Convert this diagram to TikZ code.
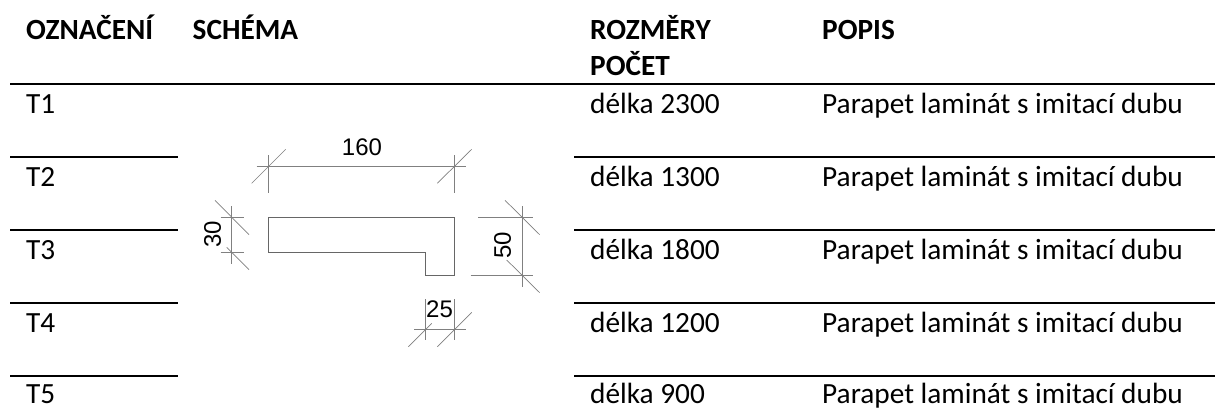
\documentclass[tikz,border=0pt]{standalone}
\usepackage{fontspec}
\setmainfont{Carlito}
\newfontfamily\dimfont{Liberation Sans}
\begin{document}
\begin{tikzpicture}[x=1pt,y=-1pt,
  rule/.style={line width=2pt,black},
  dim/.style={line width=0.7pt,black!50},
  outline/.style={line width=0.9pt,black!60},
  head/.style={anchor=base west,inner sep=0pt,font=\fontsize{29.3}{32}\selectfont\bfseries},
  cell/.style={anchor=base west,inner sep=0pt,font=\fontsize{29.3}{32}\selectfont},
  dimtext/.style={inner sep=0pt,font=\fontsize{24}{26}\dimfont,text=black}]
\useasboundingbox (0,0) rectangle (1215,409);
\fill[white] (0,0) rectangle (1215,409);
% rules
\draw[rule] (10,84) -- (1215,84);
\foreach \y in {156.7,230,303,375.7}{
  \draw[rule] (10,\y) -- (178,\y);
  \draw[rule] (574,\y) -- (1215,\y);
}
% header
\node[head] (h1) at (26,39.5) {OZNAČENÍ};
\node[head] (h2) at (192.5,39.5) {SCHÉMA};
\node[head] (h3) at (590,39.5) {ROZMĚRY};
\node[head] (h3b) at (590,76) {POČET};
\node[head] (h4) at (822,39.5) {POPIS};
% rows
\foreach \n/\y/\l in {1/113.5/2300,2/186.5/1300,3/259.5/1800,4/332.5/1200,5/403/900}{
  \node[cell] (t\n) at (26,\y) {T\n};
  \node[cell] (d\n) at (590,\y) {délka \l};
  \node[cell] (p\n) at (822,\y) {Parapet laminát s imitací dubu};
}
% profile
\draw[outline] (268.3,217.3) -- (454.7,217.3) -- (454.7,275.3) -- (425.7,275.3) -- (425.7,252.3) -- (268.3,252.3) -- cycle;
% dim 160
\draw[dim] (256.7,166.3) -- (466,166.3);
\draw[dim] (268.3,155) -- (268.3,193.3);
\draw[dim] (454.7,155) -- (454.7,193.3);
\draw[dim] (251.7,183.3) -- (285.7,149.3);
\draw[dim] (437.3,183.3) -- (471.7,149.3);
\node[dimtext] (n160) at (362,147.5) {160};
% dim 30
\draw[dim] (231.7,206) -- (231.7,264);
\draw[dim] (220.7,217.3) -- (244.3,217.3);
\draw[dim] (220.7,252.3) -- (244.3,252.3);
\draw[dim] (215,200.3) -- (249,234.7);
\draw[dim] (226.7,247.3) -- (249,269.7);
\node[dimtext,rotate=90] (n30) at (212.5,234) {30};
% dim 50
\draw[dim] (522.3,206) -- (522.3,287.3);
\draw[dim] (478.3,217.3) -- (533.3,217.3);
\draw[dim] (470.7,275.3) -- (533.3,275.3);
\draw[dim] (505,200.3) -- (539.7,234.7);
\draw[dim] (506.7,260) -- (539.7,292.7);
\node[dimtext,rotate=90] (n50) at (502.5,245.5) {50};
% dim 25
\draw[dim] (414,329.3) -- (466,329.3);
\draw[dim] (425.7,299) -- (425.7,340.3);
\draw[dim] (454.7,299) -- (454.7,340.3);
\draw[dim] (408.3,346.7) -- (431.7,323.3);
\draw[dim] (437.3,346.7) -- (471.7,312.3);
\node[dimtext] (n25) at (439.5,309.5) {25};
\end{tikzpicture}
\end{document}
